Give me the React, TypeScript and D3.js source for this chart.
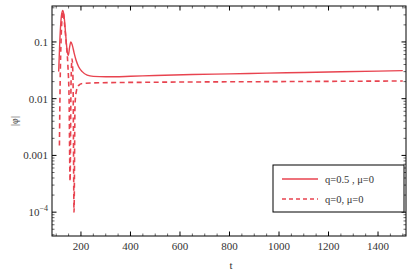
import React from 'react';
import * as d3 from 'd3';

// q=0.5, mu=0 (solid)
const solidT = [110, 114, 118, 122, 127, 132, 138, 144, 149, 154, 159, 165, 172, 180, 190, 205, 225, 250, 300, 400, 500, 650, 800, 950, 1100, 1250, 1400, 1500];
const solidV = [0.03, 0.09, 0.2, 0.31, 0.36, 0.28, 0.14, 0.07, 0.058, 0.08, 0.1, 0.088, 0.065, 0.048, 0.037, 0.03, 0.026, 0.0247, 0.0243, 0.0248, 0.0256, 0.0266, 0.0274, 0.0282, 0.029, 0.0298, 0.0306, 0.0312];

// q=0, mu=0 (dashed)
const dashT = [113, 116, 120, 125, 128, 133, 140, 147, 152, 156, 160, 164, 168, 172, 176, 182, 190, 205, 250, 500, 1000, 1500];
const dashV = [0.0015, 0.02, 0.12, 0.3, 0.34, 0.22, 0.1, 0.04, 0.01, 0.00035, 0.02, 0.05, 0.02, 0.0001, 0.008, 0.014, 0.017, 0.0185, 0.019, 0.0195, 0.02, 0.0205];

const xMajor = [200, 400, 600, 800, 1000, 1200, 1400];
const yMajor = [0.1, 0.01, 0.001, 0.0001];
const yLabels = ['0.1', '0.01', '0.001', '10^-4'];
const legendLabels = ['q=0.5 , \u03bc=0', 'q=0, \u03bc=0'];

const W = 415;
const H = 277;
const m = { left: 52, right: 9, top: 6, bottom: 41 };
const red = '#e8434f';
const font = '"Liberation Serif", "DejaVu Serif", serif';

const App = () => {
  const x = d3.scaleLinear().domain([83, 1513]).range([m.left, W - m.right]);
  const y = d3.scaleLog().domain([3.8e-5, 0.43]).range([H - m.bottom, m.top]);

  const line = d3.line<[number, number]>()
    .x(d => x(d[0]))
    .y(d => y(d[1]))
    .curve(d3.curveMonotoneX);

  const solid = solidT.map((t, i) => [t, solidV[i]] as [number, number]);
  const dashed = dashT.map((t, i) => [t, dashV[i]] as [number, number]);

  const xMinor = d3.range(100, 1501, 50).filter(v => !xMajor.includes(v));
  const yMinor: number[] = [];
  for (let e = -5; e <= -1; e++) {
    for (let k = 2; k <= 9; k++) {
      const v = k * Math.pow(10, e);
      if (v > 3.8e-5 && v < 0.43) yMinor.push(v);
    }
  }

  const x0 = m.left, x1 = W - m.right, y0 = m.top, y1 = H - m.bottom;

  return (
    <svg width={W} height={H} style={{ position: 'absolute', left: 0, top: 0, background: '#fff' }}>
      <defs>
        <clipPath id="plot">
          <rect x={x0} y={y0} width={x1 - x0} height={y1 - y0} />
        </clipPath>
      </defs>
      <g clipPath="url(#plot)">
        <path d={line(solid) ?? ''} fill="none" stroke={red} strokeWidth={1.4} />
        <path d={line(dashed) ?? ''} fill="none" stroke={red} strokeWidth={1.6} strokeDasharray="5,3.5" />
      </g>

      {/* ticks */}
      {xMajor.map(v => (
        <g key={'xM' + v}>
          <line x1={x(v)} x2={x(v)} y1={y1} y2={y1 - 4.5} stroke="#000" />
          <line x1={x(v)} x2={x(v)} y1={y0} y2={y0 + 4.5} stroke="#000" />
          <text x={x(v)} y={y1 + 14} textAnchor="middle" fontSize={11} fontFamily={font} fill="#333">{v}</text>
        </g>
      ))}
      {xMinor.map(v => (
        <g key={'xm' + v}>
          <line x1={x(v)} x2={x(v)} y1={y1} y2={y1 - 2.5} stroke="#000" strokeWidth={0.6} />
          <line x1={x(v)} x2={x(v)} y1={y0} y2={y0 + 2.5} stroke="#000" strokeWidth={0.6} />
        </g>
      ))}
      {yMajor.map((v, i) => (
        <g key={'yM' + v}>
          <line x1={x0} x2={x0 + 4.5} y1={y(v)} y2={y(v)} stroke="#000" />
          <line x1={x1} x2={x1 - 4.5} y1={y(v)} y2={y(v)} stroke="#000" />
          {yLabels[i].includes('^') ? (
            <text x={x0 - 4} y={y(v) + 4} textAnchor="end" fontSize={11} fontFamily={font} fill="#333">
              {yLabels[i].split('^')[0]}
              <tspan dy={-5} fontSize={8}>{yLabels[i].split('^')[1].replace('-', '\u2212')}</tspan>
            </text>
          ) : (
            <text x={x0 - 4} y={y(v) + 4} textAnchor="end" fontSize={11} fontFamily={font} fill="#333">{yLabels[i]}</text>
          )}
        </g>
      ))}
      {yMinor.map(v => (
        <g key={'ym' + v}>
          <line x1={x0} x2={x0 + 2.5} y1={y(v)} y2={y(v)} stroke="#000" strokeWidth={0.6} />
          <line x1={x1} x2={x1 - 2.5} y1={y(v)} y2={y(v)} stroke="#000" strokeWidth={0.6} />
        </g>
      ))}

      {/* frame */}
      <rect x={x0} y={y0} width={x1 - x0} height={y1 - y0} fill="none" stroke="#000" strokeWidth={1} />

      {/* axis labels */}
      <text x={(x0 + x1) / 2 + 2} y={H - 8} textAnchor="middle" fontSize={11} fontFamily={font} fill="#333">t</text>
      <text transform={`translate(18,${(y0 + y1) / 2}) rotate(-90)`} textAnchor="middle" fontSize={10} fontFamily={font} fill="#333">|{'\u03c6'}|</text>

      {/* legend */}
      <g transform="translate(273,165)">
        <rect x={0} y={0} width={131} height={47} fill="#fff" stroke="#000" strokeWidth={1} />
        {legendLabels.map((lab, i) => (
          <g key={lab} transform={`translate(0,${14 + i * 20})`}>
            <line x1={9} x2={45} y1={0} y2={0} stroke={red} strokeWidth={1.3} strokeDasharray={i === 1 ? '4,3' : undefined} />
            <text x={52} y={4} fontSize={10.5} fontFamily={font} fill="#333">{lab}</text>
          </g>
        ))}
      </g>
    </svg>
  );
};

export default App;
